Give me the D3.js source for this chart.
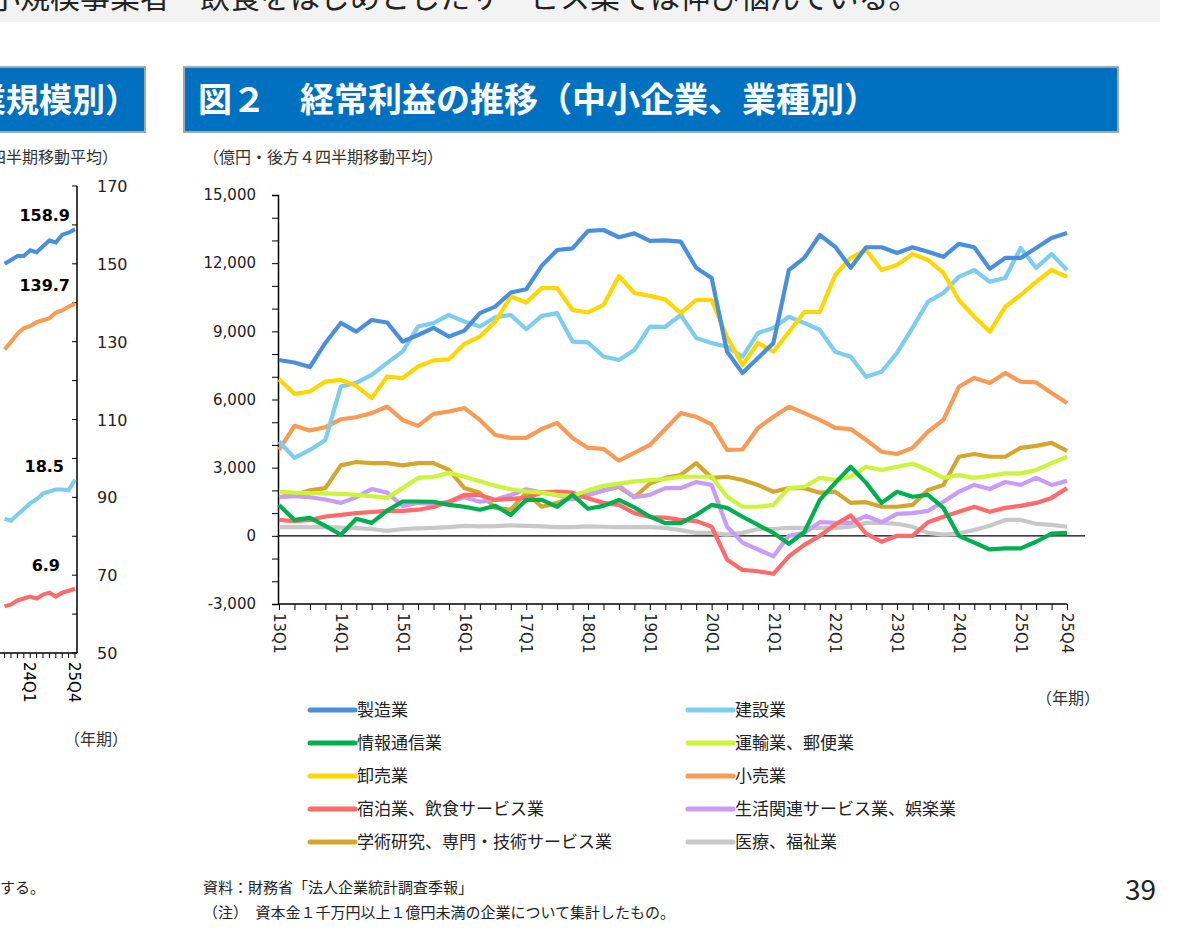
<!DOCTYPE html>
<html><head><meta charset="utf-8">
<script src="https://cdn.jsdelivr.net/npm/d3@7"></script>
<style>body{margin:0;background:#fff;}svg{font-family:"Noto Sans CJK JP","Noto Sans",sans-serif;}</style>
</head><body><svg id="c" width="1184" height="940"></svg>
<script>
const quarters = [];
for (let y = 13; y <= 25; y++) for (let q = 1; q <= 4; q++) quarters.push(y + "Q" + q);
const tickLabels = ["13Q1","14Q1","15Q1","16Q1","17Q1","18Q1","19Q1","20Q1","21Q1","22Q1","23Q1","24Q1","25Q1","25Q4"];
const yTicks = [-3000,0,3000,6000,9000,12000,15000];

const manufacturing = [7740,7630,7430,8490, 9370,8990,9500,9390, 8550,8840,9150,8770, 9030,9800,10090,10710, 10850,11880,12580,12650, 13420,13460,13140,13310, 12980,13000,12950,11800, 11350,8100,7170,7830, 8490,11700,12230,13240, 12720,11800,12700,12700, 12450,12700,12500,12280, 12850,12700,11750,12230, 12230,12670,13110,13330];
const construction = [4150,3430,3780,4220, 6570,6730,7080,7610, 8110,9210,9360,9720, 9430,9210,9620,9720, 9090,9680,9800,8550, 8510,7890,7740,8180, 9210,9200,9720,8710, 8490,8320,7880,8930, 9150,9640,9370,9060, 8100,7880,7000,7220, 8050,9150,10300,10690, 11400,11700,11180,11350, 12670,11790,12400,11700];
const infoComm = [1360,700,790,440, 50,750,570,1110, 1510,1510,1500,1360, 1280,1150,1320,920, 1580,1580,1280,1800, 1190,1320,1580,1250, 850,560,560,920, 1360,1230,840,480, 130,-350,170,1580, 2330,3040,2330,1450, 1940,1720,1800,1230, 0,-300,-600,-550, -550,-260,100,130];
const transport = [1940,1900,1880,1870, 1850,1800,1750,1670, 2100,2550,2600,2770, 2600,2400,2200,2050, 1950,1900,1800,1750, 2000,2200,2300,2400, 2450,2500,2600,2600, 2600,1720,1280,1280, 1360,2100,2160,2550, 2460,2600,3040,2900, 3040,3170,2900,2550, 2680,2550,2640,2750, 2750,2900,3200,3480];
const wholesale = [6890,6250,6350,6790, 6860,6600,6060,7010, 6940,7450,7720,7770, 8450,8770,9430,10530, 10270,10900,10900,9940, 9830,10160,11440,10680, 10560,10400,9800,10380, 10380,8750,7520,8490, 8100,8970,9850,9850, 11480,12230,12580,11700, 11920,12400,12140,11570, 10380,9640,8980,10080, 10600,11180,11700,11400];
const retail = [3780,4840,4640,4780, 5130,5220,5400,5690, 5100,4840,5370,5470, 5620,5100,4440,4310, 4310,4700,4970,4310, 3870,3830,3310,3650, 4000,4700,5400,5240, 4900,3780,3800,4750, 5240,5680,5400,5100, 4750,4700,4220,3700, 3600,3870,4580,5100, 6560,6950,6730,7170, 6780,6750,6290,5850];
const accommodation = [700,650,700,850, 920,1000,1050,1100, 1100,1150,1270,1500, 1800,1800,1580,1630, 1670,1900,1950,1900, 1650,1450,1360,1000, 830,800,700,650, 400,-1050,-1500,-1560, -1670,-900,-400,0, 500,900,100,-260, 0,0,600,840, 1060,1280,1060,1230, 1320,1450,1670,2100];
const lifestyle = [1700,1750,1700,1600, 1450,1700,2060,1900, 1320,1450,1400,1500, 1700,1500,1600,1800, 2050,1900,1800,1600, 1800,2000,2200,1700, 1800,2100,2100,2370, 2240,400,-300,-600, -900,0,130,600, 570,570,880,600, 970,1000,1100,1500, 1940,2240,2060,2370, 2240,2550,2240,2420];
const academic = [1700,1800,2000,2100, 3100,3250,3200,3200, 3100,3200,3200,2900, 2100,1900,1230,1150, 1900,1280,1450,1700, 1800,2000,2150,1700, 2300,2550,2680,3200, 2550,2600,2460,2240, 1940,2100,2100,1900, 1940,1450,1480,1280, 1280,1360,2020,2240, 3480,3600,3480,3480, 3870,3960,4090,3740];
const medical = [380,380,380,380, 360,340,300,220, 300,330,350,380, 440,420,430,460, 440,420,380,380, 420,400,380,380, 380,350,250,130, 130,50,130,300, 300,350,350,350, 350,400,570,570, 530,400,130,50, 100,260,440,700, 700,530,480,400];

const seriesNames = ["製造業","建設業","情報通信業","運輸業、郵便業","卸売業","小売業","宿泊業、飲食サービス業","生活関連サービス業、娯楽業","学術研究、専門・技術サービス業","医療、福祉業"];
const seriesValues = [manufacturing,construction,infoComm,transport,wholesale,retail,accommodation,lifestyle,academic,medical];
const colors = ["#4a8fdc","#7dcdf0","#00b050","#ccf53a","#ffd700","#f99a55","#ff6b6b","#c99cf7","#d4a72c","#c8c8c8"];
const drawOrder = [9,8,7,6,3,2,5,1,4,0];

const leftLabels = ["158.9","139.7","18.5","6.9"];
const leftSeries = [
  [150,151,152,152,153.5,153,154.5,156,155.5,157.5,158,158.9],
  [128,130,132,133.5,134,135,135.5,136,137.5,138,139,139.7],
  [84.5,84,85.5,87,88.5,89.5,91,91.5,92,92,91.8,94.5],
  [62,62.5,63.5,64,64.5,64,65,65.5,64.5,65.5,66,66.5]];
const leftColors = ["#4a8fdc","#f99a55","#7dcdf0","#ff6b6b"];
const leftTicks = [50,70,90,110,130,150,170];

const svg = d3.select("#c");
svg.append("rect").attr("x",0).attr("y",0).attr("width",1160).attr("height",22).attr("fill","#f3f3f3");
svg.append("text").attr("x",-10).attr("y",8).attr("font-size",30).attr("fill","#222").text("小規模事業者　飲食をはじめとしたサービス業では伸び悩んでいる。");

svg.append("rect").attr("x",-10).attr("y",67).attr("width",155).attr("height",65).attr("fill","#0070c0").attr("stroke","#a6a6a6").attr("stroke-width",2);
svg.append("text").attr("x",138).attr("y",112).attr("text-anchor","end").attr("font-size",33).attr("font-weight","bold").attr("fill","#fff").text("（企業規模別）");
svg.append("rect").attr("x",184).attr("y",67).attr("width",934).attr("height",65).attr("fill","#0070c0").attr("stroke","#a6a6a6").attr("stroke-width",2);
svg.append("text").attr("x",198).attr("y",112).attr("font-size",34).attr("font-weight","bold").attr("fill","#fff").text("図２　経常利益の推移（中小企業、業種別）");

svg.append("text").attr("x",118).attr("y",163).attr("text-anchor","end").attr("font-size",16).attr("fill","#333").text("（億円・後方４四半期移動平均）");
svg.append("text").attr("x",203).attr("y",163).attr("font-size",16).attr("fill","#333").text("（億円・後方４四半期移動平均）");

const lx = i => 75 - (11 - i) * 6.4;
const ly = d3.scaleLinear().domain([50,170]).range([653,186]);
svg.append("line").attr("x1",77).attr("x2",77).attr("y1",186).attr("y2",653).attr("stroke","#000").attr("stroke-width",1.5);
svg.append("line").attr("x1",0).attr("x2",77).attr("y1",653).attr("y2",653).attr("stroke","#000").attr("stroke-width",1.5);
d3.range(50,171,10).forEach(v=>svg.append("line").attr("x1",72).attr("x2",77).attr("y1",ly(v)).attr("y2",ly(v)).attr("stroke","#000"));
d3.range(12).forEach(i=>svg.append("line").attr("x1",lx(i)).attr("x2",lx(i)).attr("y1",653).attr("y2",658).attr("stroke","#000"));
leftTicks.forEach(v=>svg.append("text").attr("x",97).attr("y",ly(v)+6).attr("font-size",16).attr("font-family","DejaVu Sans").attr("fill","#222").text(v));
leftSeries.forEach((s,k)=>{
  svg.append("path").attr("d",d3.line().x((d,i)=>lx(i)).y(d=>ly(d))(s)).attr("fill","none").attr("stroke",leftColors[k]).attr("stroke-width",4);
});
[[70,221],[70,291],[64,472],[60,571]].forEach((p,k)=>svg.append("text").attr("x",p[0]).attr("y",p[1]).attr("text-anchor","end").attr("font-size",16).attr("font-weight","bold").attr("font-family","DejaVu Sans").text(leftLabels[k]));
[["24Q1",lx(4)],["25Q4",lx(11)]].forEach(t=>svg.append("text").attr("transform",`translate(${t[1]-6},662) rotate(90)`).attr("font-size",15).attr("font-family","DejaVu Sans").text(t[0]));
svg.append("text").attr("x",64).attr("y",745).attr("font-size",16).attr("fill","#333").text("（年期）");

const x = d3.scalePoint().domain(quarters).range([279,1067]);
const y = d3.scaleLinear().domain([-3000,15000]).range([604,195]);
const fmt = d => d3.format(",")(Math.abs(d)) === "0" ? "0" : (d < 0 ? "-" : "") + d3.format(",")(Math.abs(d));
const yAxis = d3.axisLeft(y).tickValues(d3.range(-3000,15001,1000)).tickSize(6).tickFormat(d=>yTicks.includes(d)?fmt(d):"");
const gy = svg.append("g").attr("transform","translate(278,0)").call(yAxis);
gy.select(".domain").attr("stroke","#000").attr("stroke-width",1.5);
gy.selectAll("text").attr("font-size",15).attr("font-family","DejaVu Sans").attr("fill","#222").attr("x",-22);
const xAxis = d3.axisBottom(x).tickSize(6).tickFormat(d=>tickLabels.includes(d)?d:"");
const gx = svg.append("g").attr("transform","translate(0,604)").call(xAxis);
gx.select(".domain").attr("stroke","#000").attr("stroke-width",1.5).attr("d","M278,0H1067");
gx.selectAll("text").attr("font-size",15).attr("font-family","DejaVu Sans").attr("fill","#222")
  .attr("transform","rotate(90)").attr("text-anchor","start").attr("x",9).attr("y",0).attr("dy","0.35em");
svg.append("line").attr("x1",278).attr("x2",1085).attr("y1",y(0)).attr("y2",y(0)).attr("stroke","#000").attr("stroke-width",1.3);

const line = d3.line().x((d,i)=>x(quarters[i])).y(d=>y(d));
drawOrder.forEach(k=>{
  svg.append("path").attr("d",line(seriesValues[k])).attr("fill","none").attr("stroke",colors[k]).attr("stroke-width",4.2).attr("stroke-linejoin","round");
});
svg.append("text").attr("x",1036).attr("y",704).attr("font-size",16).attr("fill","#333").text("（年期）");

seriesNames.forEach((n,k)=>{
  const col = k%2, row = Math.floor(k/2);
  const lx0 = col ? 688 : 310, ly0 = 710 + row*33;
  svg.append("line").attr("x1",lx0).attr("x2",lx0+45).attr("y1",ly0).attr("y2",ly0).attr("stroke",colors[k]).attr("stroke-width",5).attr("stroke-linecap","round");
  svg.append("text").attr("x",lx0+47).attr("y",ly0+6).attr("font-size",17).attr("fill","#222").text(n);
});

svg.append("text").attr("x",0).attr("y",893).attr("font-size",15).attr("fill","#222").text("する。");
svg.append("text").attr("x",203).attr("y",893).attr("font-size",15).attr("fill","#222").text("資料：財務省「法人企業統計調査季報」");
svg.append("text").attr("x",203).attr("y",918).attr("font-size",15).attr("fill","#222").text("（注）　資本金１千万円以上１億円未満の企業について集計したもの。");
svg.append("text").attr("x",1125).attr("y",900).attr("font-size",28).attr("fill","#222").text("39");
</script></body></html>
